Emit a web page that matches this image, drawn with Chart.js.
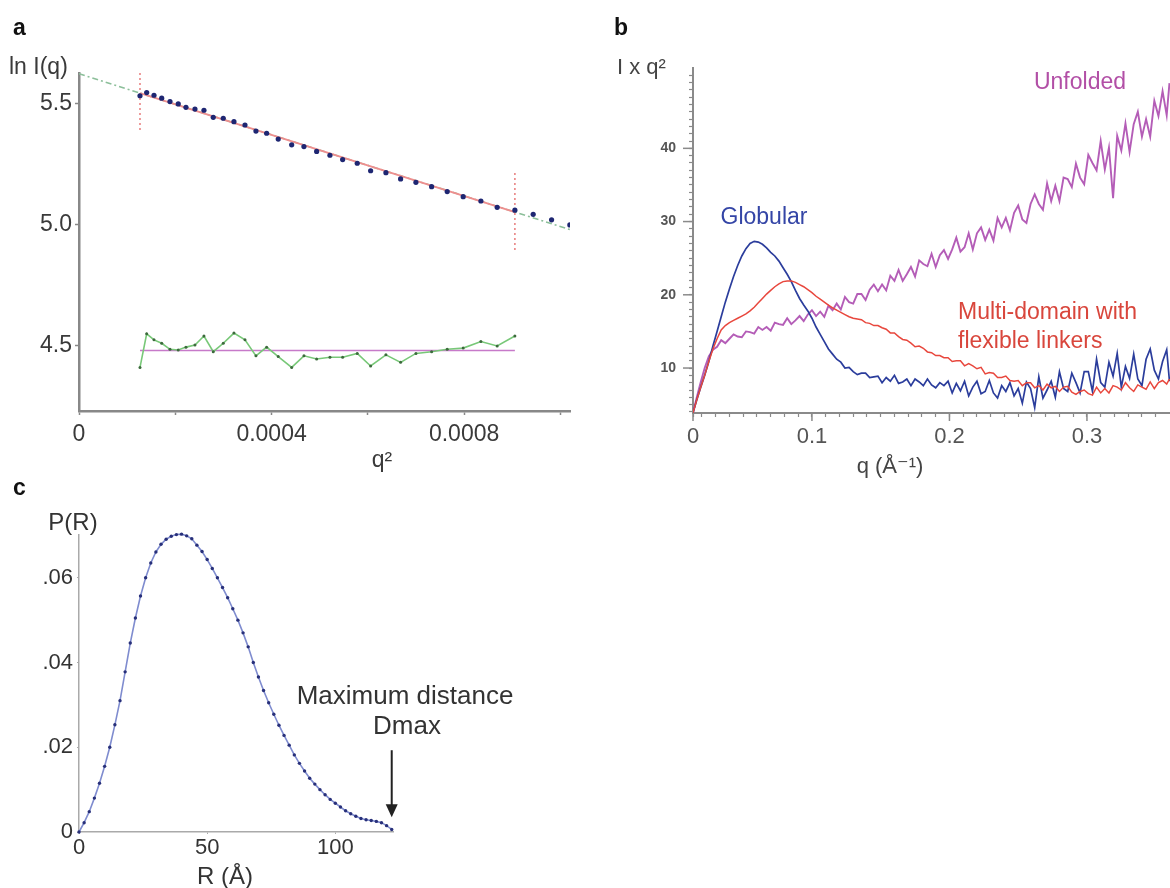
<!DOCTYPE html>
<html>
<head>
<meta charset="utf-8">
<script src="https://cdn.jsdelivr.net/npm/chart.js@4.4.1/dist/chart.umd.min.js"></script>
<style>
body{margin:0;background:#fff;}
#wrap{position:relative;width:1170px;height:888px;overflow:hidden;background:#fff;}
canvas{position:absolute;}
</style>
</head>
<body>
<div id="wrap">
<canvas id="chartA" width="600" height="480" style="left:0px;top:0px"></canvas>
<canvas id="chartB" width="590" height="490" style="left:580px;top:0px"></canvas>
<canvas id="chartC" width="600" height="418" style="left:0px;top:470px"></canvas>
</div>
<script>
// ---- panel a : Guinier plot ----
var guinierQ2 = [0.0001267, 0.0001406, 0.0001558, 0.0001718, 0.0001890, 0.0002062, 0.0002222, 0.0002409, 0.0002596, 0.0002789,
                 0.0002997, 0.0003219, 0.0003448, 0.0003676, 0.0003898, 0.0004139, 0.0004418, 0.0004673, 0.0004937, 0.0005213,
                 0.0005477, 0.0005780, 0.0006058, 0.0006376, 0.0006681, 0.0006999, 0.0007325, 0.0007649, 0.0007981, 0.0008349,
                 0.0008687, 0.0009055, 0.0009435, 0.0009817, 0.0010197];
var guinierLnI = [5.534, 5.547, 5.536, 5.524, 5.510, 5.500, 5.486, 5.479, 5.474, 5.445,
                  5.441, 5.427, 5.413, 5.388, 5.379, 5.355, 5.331, 5.324, 5.304, 5.288,
                  5.270, 5.255, 5.224, 5.216, 5.190, 5.176, 5.158, 5.138, 5.117, 5.099,
                  5.073, 5.061, 5.044, 5.021, 5.000];
var residualLnI = [4.411, 4.550, 4.525, 4.511, 4.486, 4.483, 4.495, 4.504, 4.541, 4.476,
                   4.511, 4.553, 4.525, 4.459, 4.495, 4.456, 4.411, 4.459, 4.446, 4.453,
                   4.453, 4.469, 4.417, 4.463, 4.432, 4.469, 4.476, 4.486, 4.491, 4.518,
                   4.500, 4.541];
var fitQ2 = [0.0001267, 0.0009055];
var fitLnI = [5.545, 5.053];
var extrapQ2 = [0, 0.00102];
var extrapLnI = [5.625, 4.981];
var residualMean = [4.481, 4.481];
var limitLowLnI = [5.628, 5.380];
var limitHighLnI = [5.215, 4.884];
var guinierXTicks = [0, 0.0002, 0.0004, 0.0006, 0.0008, 0.001];
var guinierXTickLabels = ['0', '', '0.0004', '', '0.0008', ''];
var guinierYTicks = [4.5, 5.0, 5.5];
var guinierYTickLabels = ['4.5', '5.0', '5.5'];

// ---- panel b : Kratky plot ----
var kratkyQ = [0.0135, 0.016, 0.019, 0.022, 0.025, 0.028, 0.031, 0.034, 0.037, 0.040,
               0.043, 0.046, 0.049, 0.052, 0.055, 0.058, 0.061, 0.064, 0.067, 0.070,
               0.073, 0.076, 0.079, 0.082, 0.085, 0.088, 0.091, 0.094, 0.097, 0.100,
               0.103, 0.106, 0.109, 0.112, 0.115, 0.118, 0.121, 0.124, 0.127, 0.130,
               0.133, 0.136, 0.139, 0.142, 0.145, 0.148, 0.151, 0.154, 0.157, 0.160,
               0.163, 0.166, 0.169, 0.172, 0.175, 0.178, 0.181, 0.184, 0.187, 0.190,
               0.193, 0.196, 0.199, 0.202, 0.205, 0.208, 0.211, 0.214, 0.217, 0.220,
               0.223, 0.226, 0.229, 0.232, 0.235, 0.238, 0.241, 0.244, 0.247, 0.250,
               0.253, 0.256, 0.259, 0.262, 0.265, 0.268, 0.271, 0.274, 0.277, 0.280,
               0.283, 0.286, 0.289, 0.292, 0.295, 0.298, 0.301, 0.304, 0.307, 0.310,
               0.313, 0.316, 0.319, 0.322, 0.325, 0.328, 0.331, 0.334, 0.337, 0.340,
               0.343, 0.346, 0.349, 0.352, 0.355, 0.358, 0.360];
var globular = [3.9, 5.5, 7.3, 9.0, 10.9, 13.0, 15.0, 17.0, 19.0, 20.8,
                22.5, 24.0, 25.3, 26.3, 27.0, 27.3, 27.2, 26.9, 26.4, 25.8,
                25.3, 24.6, 23.7, 22.8, 21.8, 20.6, 19.5, 18.6, 17.8, 16.8,
                15.6, 14.6, 13.6, 12.6, 11.9, 11.2, 10.8, 10.0, 10.1, 9.5,
                9.1, 9.3, 9.3, 8.7, 8.8, 8.9, 8.0, 8.7, 8.2, 9.0,
                7.9, 8.1, 8.5, 7.6, 8.5, 8.1, 7.6, 8.5, 7.7, 7.3,
                8.0, 7.6, 8.2, 6.6, 7.9, 6.9, 8.2, 6.2, 7.4, 8.2,
                6.5, 6.8, 8.3, 6.6, 5.9, 7.6, 6.8, 8.0, 6.2, 7.2,
                5.2, 8.1, 7.2, 4.6, 8.8, 5.9, 7.0, 8.2, 6.0, 9.5,
                7.2, 6.8, 9.3, 8.0, 6.6, 9.5, 9.5, 6.8, 11.2, 8.0,
                7.4, 10.8, 8.9, 12.0, 7.4, 10.2, 8.6, 11.9, 8.5, 7.6,
                11.2, 12.6, 9.7, 8.5, 10.9, 12.5, 8.2];
var multiDomain = [3.9, 5.5, 7.3, 9.0, 10.9, 12.6, 14.0, 15.2, 15.8, 16.2,
                   16.5, 16.8, 17.1, 17.4, 17.8, 18.3, 18.9, 19.5, 20.1, 20.6,
                   21.1, 21.5, 21.8, 21.9, 21.9, 21.7, 21.4, 21.1, 20.7, 20.3,
                   19.8, 19.4, 19.0, 18.6, 18.2, 17.9, 17.6, 17.3, 17.0, 16.8,
                   16.7, 16.6, 16.2, 16.1, 15.8, 15.8, 15.5, 15.3, 14.8, 14.8,
                   14.3, 13.9, 13.8, 13.4, 12.9, 13.0, 12.7, 12.2, 12.1, 11.7,
                   11.7, 11.4, 11.4, 10.9, 11.0, 11.0, 10.3, 10.6, 10.3, 9.9,
                   10.1, 9.2, 9.4, 9.3, 8.7, 8.7, 8.9, 8.3, 8.2, 8.3,
                   7.6, 8.0, 8.0, 7.3, 7.6, 7.0, 7.8, 7.3, 7.5, 6.8,
                   7.4, 7.5, 6.7, 6.4, 6.8, 7.0, 6.5, 6.3, 7.4, 6.6,
                   7.2, 6.6, 7.6, 7.4, 7.0, 8.0, 7.3, 6.8, 7.7, 7.4,
                   7.1, 8.1, 7.2, 8.0, 8.3, 7.8, 8.5];
var unfolded = [3.9, 5.8, 8.0, 10.0, 11.6, 12.5, 12.9, 13.8, 13.4, 14.0,
                14.6, 14.3, 14.2, 15.0, 14.9, 14.7, 15.6, 15.2, 15.6, 15.1,
                16.2, 16.0, 15.9, 16.8, 16.0, 16.5, 17.1, 16.4, 17.3, 17.9,
                17.1, 17.7, 17.0, 18.5, 17.9, 18.8, 18.0, 19.7, 19.0, 18.8,
                20.1, 20.1, 19.3, 20.7, 21.4, 20.5, 21.4, 20.6, 22.6, 21.9,
                23.4, 21.9, 22.8, 23.8, 22.5, 24.7, 24.2, 23.9, 25.6, 23.8,
                25.4, 26.1, 24.9, 26.2, 27.8, 25.9, 26.5, 28.4, 26.2, 28.4,
                29.2, 27.5, 28.9, 27.4, 30.5, 29.2, 30.5, 28.8, 31.2, 32.2,
                30.3, 29.8, 32.4, 33.7, 32.4, 31.6, 35.2, 32.8, 34.9, 32.8,
                36.0, 35.8, 34.7, 37.9, 36.0, 35.1, 39.1, 38.0, 37.0, 41.0,
                37.1, 40.1, 33.2, 41.7, 39.7, 43.4, 39.5, 43.3, 45.0, 41.6,
                44.0, 41.6, 46.5, 44.4, 47.8, 44.5, 48.9];
var kratkyXTicks = [0.0135, 0.1, 0.2, 0.3];
var kratkyXTickLabels = ['0', '0.1', '0.2', '0.3'];
var kratkyXMinorStep = 0.01;
var kratkyYTicks = [10, 20, 30, 40];
var kratkyYTickLabels = ['10', '20', '30', '40'];

// ---- panel c : pair distance distribution ----
var distR = [0, 2, 4, 6, 8, 10, 12, 14, 16, 18, 20, 22, 24, 26, 28, 30, 32, 34, 36, 38,
             40, 42, 44, 46, 48, 50, 52, 54, 56, 58, 60, 62, 64, 66, 68, 70, 72, 74, 76, 78,
             80, 82, 84, 86, 88, 90, 92, 94, 96, 98, 100, 102, 104, 106, 108, 110, 112, 114, 116, 118,
             120, 122];
var distP = [0.0000, 0.0022, 0.0048, 0.0080, 0.0115, 0.0155, 0.0200, 0.0253, 0.0310, 0.0378,
             0.0446, 0.0505, 0.0557, 0.0600, 0.0635, 0.0661, 0.0679, 0.0691, 0.0698, 0.0702,
             0.0703, 0.0699, 0.0692, 0.0677, 0.0662, 0.0643, 0.0622, 0.0600, 0.0577, 0.0553,
             0.0527, 0.0500, 0.0470, 0.0437, 0.0400, 0.0366, 0.0334, 0.0305, 0.0278, 0.0252,
             0.0228, 0.0205, 0.0182, 0.0162, 0.0144, 0.0127, 0.0113, 0.0100, 0.0088, 0.0077,
             0.0068, 0.0059, 0.0050, 0.0043, 0.0037, 0.0032, 0.0029, 0.0027, 0.0025, 0.0022,
             0.0015, 0.0006];
var distXTicks = [0, 50, 100];
var distXTickLabels = ['0', '50', '100'];
var distYTicks = [0, 0.02, 0.04, 0.06];
var distYTickLabels = ['0', '.02', '.04', '.06'];
var dmaxArrow = {r: 122, from: 0.0193, to: 0.0035};

var FONT = "'Liberation Sans', 'DejaVu Sans', Arial, sans-serif";
Chart.defaults.font.family = FONT;

function toXY(xs, ys){
    var out = [];
    for(let i=0; i<ys.length; i++){
        out.push({x: xs[i], y: ys[i]});
    }
    return out;
}

function textPlugin(id, items){
    return {
        id: id,
        afterDraw: function(chart){
            var ctx = chart.ctx;
            ctx.save();
            ctx.textBaseline = 'middle';
            items.forEach(function(t){
                ctx.font = t.font;
                ctx.fillStyle = t.color || '#333';
                ctx.textAlign = t.align || 'center';
                ctx.fillText(t.text, t.x, t.y);
            });
            ctx.restore();
        }
    };
}

function fixedTicks(values){
    return function(scale){
        scale.ticks = values.map(function(v){ return {value: v}; });
    };
}

function baseOptions(padding){
    return {
        responsive: false,
        animation: false,
        devicePixelRatio: 1,
        events: [],
        layout: {padding: padding},
        plugins: {legend: {display: false}, tooltip: {enabled: false}}
    };
}

// ---------- chart a ----------
var optsA = baseOptions({top: 73, right: 30, left: 0, bottom: 0});
optsA.scales = {
    x: {
        type: 'linear', min: 0, max: 0.00102,
        afterBuildTicks: fixedTicks(guinierXTicks),
        afterFit: function(s){ s.height = 69; },
        ticks: {autoSkip: false, maxRotation: 0, padding: 6, color: '#3a3a3a', font: {size: 23},
                callback: function(v, i){ return guinierXTickLabels[i]; }},
        grid: {drawOnChartArea: false, tickLength: 4, color: '#888', tickWidth: 1.5},
        border: {color: '#888', width: 2.5}
    },
    y: {
        type: 'linear', min: 4.231, max: 5.628,
        afterBuildTicks: fixedTicks(guinierYTicks),
        afterFit: function(s){ s.width = 79; },
        ticks: {autoSkip: false, padding: 3, color: '#3a3a3a', font: {size: 23},
                callback: function(v, i){ return guinierYTickLabels[i]; }},
        grid: {drawOnChartArea: false, tickLength: 4, color: '#888', tickWidth: 1.5},
        border: {color: '#888', width: 2.5}
    }
};

new Chart(document.getElementById('chartA'), {
    type: 'scatter',
    data: {
        datasets: [
            {data: toXY([fitQ2[0], fitQ2[0]], limitLowLnI), showLine: true, borderColor: '#e98585',
             borderDash: [2, 3], borderWidth: 1.6, pointRadius: 0, order: 5},
            {data: toXY([fitQ2[1], fitQ2[1]], limitHighLnI), showLine: true, borderColor: '#e98585',
             borderDash: [2, 3], borderWidth: 1.6, pointRadius: 0, order: 5},
            {data: toXY(extrapQ2, extrapLnI), showLine: true, borderColor: '#8cbf9a',
             borderDash: [6, 3, 2, 3], borderWidth: 1.6, pointRadius: 0, order: 4},
            {data: toXY(fitQ2, fitLnI), showLine: true, borderColor: '#ee8e8e',
             borderWidth: 2, pointRadius: 0, order: 3},
            {data: toXY(guinierQ2, guinierLnI), showLine: false, pointRadius: 2.6,
             pointBackgroundColor: '#1e2672', pointBorderWidth: 0, order: 1},
            {data: toXY(fitQ2, residualMean), showLine: true, borderColor: '#c77ac9',
             borderWidth: 1.6, pointRadius: 0, order: 3},
            {data: toXY(guinierQ2, residualLnI), showLine: true, borderColor: '#78c878',
             borderWidth: 1.6, pointRadius: 1.5, pointBackgroundColor: '#3c6a3c', pointBorderWidth: 0, order: 2}
        ]
    },
    options: optsA,
    plugins: [textPlugin('textA', [
        {text: 'a', x: 13, y: 29, font: 'bold 23px ' + FONT, color: '#111', align: 'left'},
        {text: 'ln I(q)', x: 9, y: 68, font: '23px ' + FONT, color: '#3a3a3a', align: 'left'},
        {text: 'q\u00b2', x: 382, y: 461, font: '23px ' + FONT, color: '#3a3a3a'}
    ])]
});

// ---------- chart b ----------
var kratkyMajor = {
    id: 'kratkyMajor',
    afterDraw: function(chart){
        var ctx = chart.ctx, xs = chart.scales.x, ys = chart.scales.y;
        ctx.save();
        ctx.strokeStyle = '#8a8a8a';
        ctx.lineWidth = 1.5;
        kratkyYTicks.forEach(function(v){
            var y = ys.getPixelForValue(v);
            ctx.beginPath(); ctx.moveTo(ys.right - 10, y); ctx.lineTo(ys.right, y); ctx.stroke();
        });
        kratkyXTicks.forEach(function(v){
            var x = xs.getPixelForValue(v);
            ctx.beginPath(); ctx.moveTo(x, xs.top); ctx.lineTo(x, xs.top + 8); ctx.stroke();
        });
        ctx.restore();
    }
};

var optsB = baseOptions({top: 68, right: 0, left: 0, bottom: 0});
optsB.scales = {
    x: {
        type: 'linear', min: 0.0135, max: 0.3604,
        afterBuildTicks: function(s){
            var t = [{value: kratkyXTicks[0]}];
            for(let v=2; v<=35; v++){
                t.push({value: v*kratkyXMinorStep});
            }
            s.ticks = t;
        },
        afterFit: function(s){ s.height = 77; },
        ticks: {autoSkip: false, maxRotation: 0, padding: 7, color: '#555', font: {size: 22},
                callback: function(v){
                    for(let i=0; i<kratkyXTicks.length; i++){
                        if(Math.abs(v - kratkyXTicks[i]) < 1e-6) return kratkyXTickLabels[i];
                    }
                    return '';
                }},
        grid: {drawOnChartArea: false, tickLength: 4, color: '#8a8a8a', tickWidth: 1.2},
        border: {color: '#8a8a8a', width: 2}
    },
    y: {
        type: 'linear', min: 3.86, max: 50.97,
        afterBuildTicks: function(s){
            var t = [];
            for(let v=4; v<=50; v++){
                t.push({value: v});
            }
            s.ticks = t;
        },
        afterFit: function(s){ s.width = 113; },
        ticks: {autoSkip: false, padding: 13, color: '#555', font: {size: 14, weight: 'bold'},
                callback: function(v){
                    var i = kratkyYTicks.indexOf(v);
                    return i >= 0 ? kratkyYTickLabels[i] : '';
                }},
        grid: {drawOnChartArea: false, tickLength: 4, color: '#8a8a8a', tickWidth: 1.2},
        border: {color: '#8a8a8a', width: 2}
    }
};

new Chart(document.getElementById('chartB'), {
    type: 'scatter',
    data: {
        datasets: [
            {data: toXY(kratkyQ, multiDomain), showLine: true, borderColor: '#e8473d',
             borderWidth: 1.5, pointRadius: 0, order: 1},
            {data: toXY(kratkyQ, globular), showLine: true, borderColor: '#2b3d9c',
             borderWidth: 1.7, pointRadius: 0, order: 2},
            {data: toXY(kratkyQ, unfolded), showLine: true, borderColor: '#b45db7',
             borderWidth: 1.9, pointRadius: 0, order: 3}
        ]
    },
    options: optsB,
    plugins: [kratkyMajor, textPlugin('textB', [
        {text: 'b', x: 34, y: 29, font: 'bold 23px ' + FONT, color: '#111', align: 'left'},
        {text: 'I x q\u00b2', x: 37, y: 68, font: '22px ' + FONT, color: '#444', align: 'left'},
        {text: 'Globular', x: 184, y: 218, font: '23px ' + FONT, color: '#3445a6'},
        {text: 'Unfolded', x: 500, y: 83, font: '23px ' + FONT, color: '#b24fa6'},
        {text: 'Multi-domain with', x: 378, y: 313, font: '23px ' + FONT, color: '#d9463c', align: 'left'},
        {text: 'flexible linkers', x: 378, y: 342, font: '23px ' + FONT, color: '#d9463c', align: 'left'},
        {text: 'q (\u00c5\u207b\u00b9)', x: 310, y: 467, font: '22px ' + FONT, color: '#444'}
    ])]
});

// ---------- chart c ----------
var dmaxPlugin = {
    id: 'dmaxArrow',
    afterDraw: function(chart){
        var ctx = chart.ctx, xs = chart.scales.x, ys = chart.scales.y;
        var x = xs.getPixelForValue(dmaxArrow.r);
        var y1 = ys.getPixelForValue(dmaxArrow.from);
        var y2 = ys.getPixelForValue(dmaxArrow.to);
        ctx.save();
        ctx.strokeStyle = '#222';
        ctx.fillStyle = '#222';
        ctx.lineWidth = 2;
        ctx.beginPath(); ctx.moveTo(x, y1); ctx.lineTo(x, y2 - 10); ctx.stroke();
        ctx.beginPath(); ctx.moveTo(x - 6, y2 - 13); ctx.lineTo(x + 6, y2 - 13); ctx.lineTo(x, y2); ctx.closePath(); ctx.fill();
        ctx.restore();
    }
};

var optsC = baseOptions({top: 65, right: 207, left: 0, bottom: 0});
optsC.scales = {
    x: {
        type: 'linear', min: 0, max: 122.5,
        afterBuildTicks: fixedTicks(distXTicks),
        afterFit: function(s){ s.height = 56; },
        ticks: {autoSkip: false, maxRotation: 0, padding: 1, color: '#333', font: {size: 22},
                callback: function(v, i){ return distXTickLabels[i]; }},
        grid: {drawOnChartArea: false, tickLength: 2, color: '#aaa'},
        border: {color: '#aaa', width: 1.5}
    },
    y: {
        type: 'linear', min: 0, max: 0.0701,
        afterBuildTicks: fixedTicks(distYTicks),
        afterFit: function(s){ s.width = 79; },
        ticks: {autoSkip: false, padding: 4, color: '#333', font: {size: 22},
                callback: function(v, i){ return distYTickLabels[i]; }},
        grid: {drawOnChartArea: false, tickLength: 2, color: '#aaa'},
        border: {color: '#aaa', width: 1.5}
    }
};

new Chart(document.getElementById('chartC'), {
    type: 'scatter',
    data: {
        datasets: [
            {data: toXY(distR, distP), showLine: true, borderColor: '#7f8ccf', borderWidth: 1.6,
             pointRadius: 1.7, pointBackgroundColor: '#28307a', pointBorderWidth: 0, clip: false}
        ]
    },
    options: optsC,
    plugins: [dmaxPlugin, textPlugin('textC', [
        {text: 'c', x: 13, y: 19, font: 'bold 23px ' + FONT, color: '#111', align: 'left'},
        {text: 'P(R)', x: 73, y: 53, font: '24px ' + FONT, color: '#333'},
        {text: 'R (\u00c5)', x: 225, y: 407, font: '24px ' + FONT, color: '#333'},
        {text: 'Maximum distance', x: 405, y: 227, font: '26px ' + FONT, color: '#333'},
        {text: 'Dmax', x: 407, y: 257, font: '26px ' + FONT, color: '#333'}
    ])]
});
</script>
</body>
</html>
